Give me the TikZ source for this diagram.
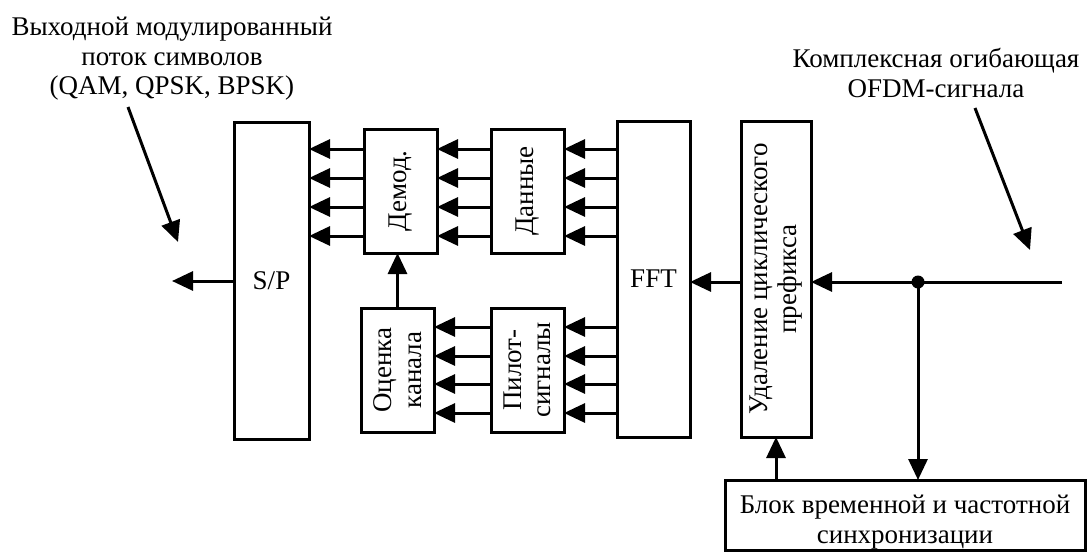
\documentclass[tikz,border=0pt]{standalone}
\usepackage{fontspec}
\setmainfont{Liberation Serif}
\usetikzlibrary{arrows.meta}
\begin{document}
\begin{tikzpicture}[x=1pt,y=-1pt,
  every node/.style={font=\fontsize{27}{29.5}\selectfont},
  blk/.style={draw,line width=3pt,rectangle,inner sep=0pt,outer sep=0pt},
  vtxt/.style={rotate=90,align=center},
  arr/.style={line width=3pt,-{Triangle[length=21pt,width=19pt]}},
  ln/.style={line width=3pt}]
\useasboundingbox (0,0) rectangle (1088,552);
% blocks
\node[blk,minimum width=75pt,minimum height=317pt] (sp) at (271.5,281) {S/P};
\node[blk,minimum width=73pt,minimum height=124pt] (dem) at (400.5,191) {};
\node[vtxt] at (dem.center) {Демод.};
\node[blk,minimum width=73pt,minimum height=124pt] (dan) at (527.5,191) {};
\node[vtxt] at (dan.center) {Данные};
\node[blk,minimum width=73pt,minimum height=124pt] (oc) at (397.5,370) {};
\node[vtxt] at (oc.center) {Оценка\\канала};
\node[blk,minimum width=73pt,minimum height=124pt] (pil) at (527.5,370) {};
\node[vtxt] at (pil.center) {Пилот-\\сигналы};
\node[blk,minimum width=73pt,minimum height=316pt] (fft) at (653.5,279) {FFT};
\node[blk,minimum width=70pt,minimum height=316pt] (ud) at (776,279) {};
\node[vtxt] at (ud.center) {Удаление циклического\\префикса};
\node[blk,minimum width=360pt,minimum height=70pt] (sync) at (905,515) {};
\node[align=center] at (905,522) {Блок временной и частотной\\синхронизации};
% labels
\node[align=center] (lab1) at (172,59) {Выходной модулированный\\поток символов\\(QAM, QPSK, BPSK)};
\node[align=center] (lab2) at (936,73) {Комплексная огибающая\\OFDM-сигнала};
% parallel arrows
\foreach \y in {149,178,207,236}{
  \draw[arr] (fft.west |- 0,\y) -- (dan.east |- 0,\y);
  \draw[arr] (dan.west |- 0,\y) -- (dem.east |- 0,\y);
  \draw[arr] (dem.west |- 0,\y) -- (sp.east |- 0,\y);
}
\foreach \y in {327,356,384,413}{
  \draw[arr] (fft.west |- 0,\y) -- (pil.east |- 0,\y);
  \draw[arr] (pil.west |- 0,\y) -- (oc.east |- 0,\y);
}
\draw[arr] (oc.north) -- (oc.north |- dem.south);
% main path
\coordinate (in) at (1062,282);
\coordinate (dot) at (918,282);
\coordinate (out) at (172,281);
\draw[ln] (in) -- (dot);
\fill (dot) circle (6.5pt);
\draw[arr] (dot) -- (ud.east |- dot);
\draw[arr] (ud.west |- dot) -- (fft.east |- dot);
\draw[arr] (sp.west |- out) -- (out);
\draw[arr] (dot) -- (dot |- sync.north);
\draw[arr] (sync.north -| ud) -- (ud.south);
% pointer arrows
\coordinate (p1s) at (128,107);
\coordinate (p1e) at (178,242);
\coordinate (p2s) at (975,108);
\coordinate (p2e) at (1030,250);
\draw[arr] (p1s) -- (p1e);
\draw[arr] (p2s) -- (p2e);
\end{tikzpicture}
\end{document}
